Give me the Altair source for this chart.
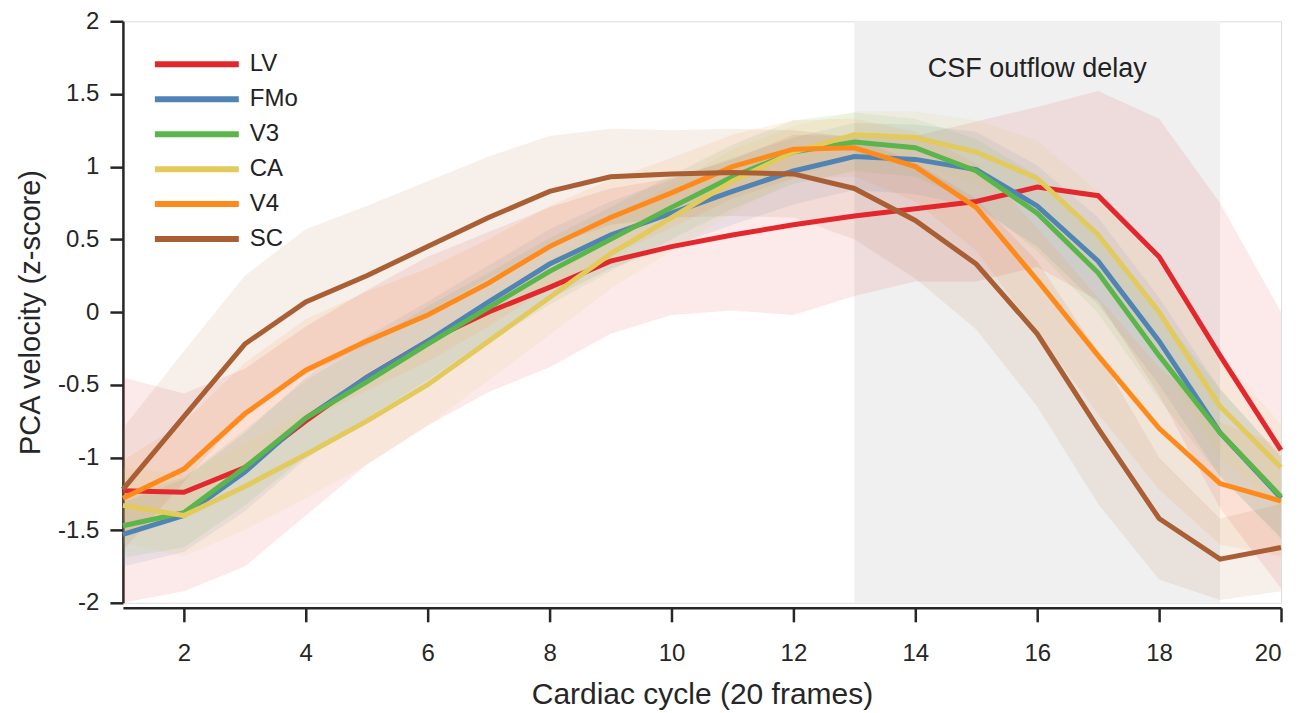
import altair as alt
import pandas as pd

frames = list(range(1, 21))
series = ["LV", "FMo", "V3", "CA", "V4", "SC"]
colors = ["#e3282d", "#4f84b5", "#5ab54b", "#e2ca5c", "#ff8a1c", "#a95f33"]

lv = [-1.23, -1.24, -1.07, -0.75, -0.45, -0.2, 0.0, 0.17, 0.35, 0.45, 0.53, 0.6, 0.66, 0.71, 0.76, 0.86, 0.8, 0.38, -0.3, -0.95]
fmo = [-1.53, -1.4, -1.1, -0.73, -0.45, -0.2, 0.07, 0.33, 0.53, 0.68, 0.83, 0.97, 1.07, 1.05, 0.98, 0.73, 0.35, -0.2, -0.83, -1.28]
v3 = [-1.47, -1.38, -1.07, -0.73, -0.48, -0.22, 0.03, 0.28, 0.5, 0.72, 0.93, 1.1, 1.17, 1.13, 0.97, 0.68, 0.27, -0.3, -0.83, -1.27]
ca = [-1.33, -1.4, -1.2, -0.98, -0.75, -0.5, -0.2, 0.1, 0.4, 0.65, 0.9, 1.1, 1.22, 1.2, 1.1, 0.92, 0.53, 0.0, -0.65, -1.07]
v4 = [-1.28, -1.08, -0.7, -0.4, -0.2, -0.02, 0.2, 0.45, 0.65, 0.82, 1.0, 1.12, 1.13, 1.0, 0.72, 0.22, -0.3, -0.8, -1.18, -1.3]
sc = [-1.22, -0.72, -0.22, 0.07, 0.25, 0.45, 0.65, 0.83, 0.93, 0.95, 0.96, 0.95, 0.85, 0.63, 0.33, -0.15, -0.8, -1.42, -1.7, -1.62]

# half-widths of the shaded bands
lv_hw = [0.78, 0.68, 0.68, 0.65, 0.6, 0.58, 0.55, 0.55, 0.5, 0.47, 0.52, 0.62, 0.55, 0.5, 0.55, 0.55, 0.72, 0.95, 1.05, 0.95]
fmo_hw = [0.22, 0.25, 0.27, 0.28, 0.28, 0.27, 0.25, 0.24, 0.23, 0.23, 0.23, 0.23, 0.23, 0.24, 0.26, 0.28, 0.3, 0.3, 0.3, 0.28]
v3_hw = [0.22, 0.24, 0.26, 0.26, 0.26, 0.26, 0.24, 0.23, 0.22, 0.22, 0.22, 0.22, 0.2, 0.2, 0.22, 0.26, 0.28, 0.3, 0.3, 0.28]
ca_hw = [0.26, 0.28, 0.3, 0.3, 0.3, 0.28, 0.27, 0.26, 0.24, 0.23, 0.22, 0.18, 0.16, 0.18, 0.22, 0.26, 0.3, 0.33, 0.35, 0.3]
v4_hw = [0.26, 0.32, 0.35, 0.35, 0.34, 0.32, 0.3, 0.28, 0.26, 0.24, 0.22, 0.2, 0.2, 0.24, 0.3, 0.36, 0.4, 0.42, 0.42, 0.38]
sc_hw = [0.42, 0.45, 0.47, 0.5, 0.48, 0.45, 0.42, 0.38, 0.33, 0.3, 0.3, 0.3, 0.35, 0.4, 0.45, 0.5, 0.52, 0.42, 0.28, 0.3]

means = {"LV": lv, "FMo": fmo, "V3": v3, "CA": ca, "V4": v4, "SC": sc}
hws = {"LV": lv_hw, "FMo": fmo_hw, "V3": v3_hw, "CA": ca_hw, "V4": v4_hw, "SC": sc_hw}

rows = []
for si, s in enumerate(series):
    for f, m, h in zip(frames, means[s], hws[s]):
        rows.append({"frame": f, "series": s, "order": si, "mean": m,
                     "lo": max(m - h, -2.0), "hi": min(m + h, 2.0)})
df = pd.DataFrame(rows)

region = pd.DataFrame({"x0": [13], "x1": [19], "y0": [-2.0], "y1": [2.0],
                       "label": ["CSF outflow delay"], "xm": [16], "ym": [1.67]})

font = "Liberation Sans"
ink = "#262626"
xscale = alt.Scale(domain=[1, 20], nice=False, zero=False)
yscale = alt.Scale(domain=[-2, 2], nice=False, zero=False)
cscale = alt.Scale(domain=series, range=colors)

xaxis = alt.Axis(title="Cardiac cycle (20 frames)", values=list(range(2, 21, 2)),
                 format="d", offset=5, tickSize=14, labelPadding=20, titlePadding=14,
                 titleFontSize=30)
yaxis = alt.Axis(title="PCA velocity (z-score)",
                 values=[-2, -1.5, -1, -0.5, 0, 0.5, 1, 1.5, 2],
                 labelExpr="'' + datum.value", tickSize=13, labelPadding=11,
                 titlePadding=12, titleFontSize=29)

# long horizontal stroke drawn from a compact symbol so the rows stay tight
legend = alt.Legend(title=None, orient="none", legendX=56, legendY=25,
                    symbolType="M-2.8,0L2.8,0", symbolSize=900,
                    symbolStrokeWidth=6, symbolOpacity=1, labelFontSize=24,
                    labelFont=font, labelColor="#222222",
                    rowPadding=5, labelOffset=35)

shade = alt.Chart(region).mark_rect(color="#f0f0f0").encode(
    x=alt.X("x0:Q", scale=xscale, axis=xaxis), x2="x1:Q",
    y=alt.Y("y0:Q", scale=yscale, axis=yaxis), y2="y1:Q")

label = alt.Chart(region).mark_text(font=font, fontSize=27, color="#222222").encode(
    x=alt.X("xm:Q", scale=xscale), y=alt.Y("ym:Q", scale=yscale), text="label:N")

bands = alt.Chart(df).mark_area(opacity=0.1).encode(
    x=alt.X("frame:Q", scale=xscale),
    y=alt.Y("lo:Q", scale=yscale),
    y2="hi:Q",
    color=alt.Color("series:N", scale=cscale, sort=series, legend=legend),
    detail="series:N",
)

lines = alt.Chart(df).mark_line(strokeWidth=5).encode(
    x=alt.X("frame:Q", scale=xscale),
    y=alt.Y("mean:Q", scale=yscale),
    color=alt.Color("series:N", scale=cscale, sort=series, legend=legend),
    order="order:Q",
)

chart = alt.layer(shade, bands, lines, label).properties(
    width=1159, height=582,
    autosize=alt.AutoSizeParams(type="none"),
    padding={"left": 115, "top": 13, "right": 20, "bottom": 110},
).configure_view(stroke=None).configure(background="white").configure_axis(
    grid=False, tickWidth=2.5, domainWidth=2.5,
    domainColor=ink, tickColor=ink,
    labelFontSize=24, labelColor=ink, titleColor=ink,
    labelFont=font, titleFont=font, titleFontWeight="normal")

chart.save("out.html", embed_options={"renderer": "svg", "actions": False})
